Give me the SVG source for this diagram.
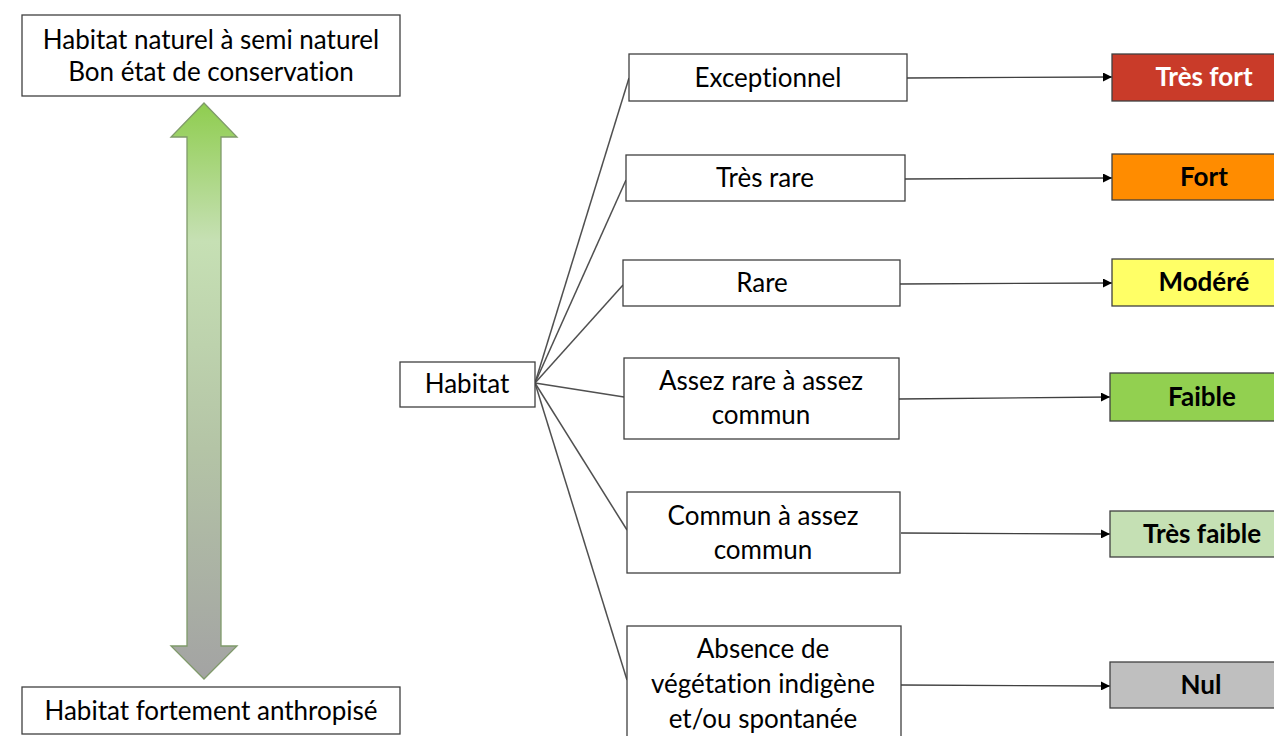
<svg xmlns="http://www.w3.org/2000/svg" width="1274" height="736" viewBox="0 0 1274 736">
<style>
  text { font-variant-ligatures: none; font-feature-settings: "liga" 0, "dlig" 0; }
  .box { fill: #ffffff; stroke: #404040; stroke-width: 1.3; }
  .t { font-family: Lato, "Liberation Sans", sans-serif; font-size: 26px; fill: #000; text-anchor: middle; }
  .b { font-family: Lato, "Liberation Sans", sans-serif; font-size: 26px; font-weight: bold; fill: #000; text-anchor: middle; }
  .lvl { stroke: #404040; stroke-width: 1.3; }
  .con { stroke: #505050; stroke-width: 1.5; fill: none; }
  .arr { stroke: #404040; stroke-width: 1.3; fill: none; marker-end: url(#ah); }
</style>
<defs>
  <marker id="ah" viewBox="0 0 10 10" refX="10" refY="5" markerWidth="10" markerHeight="9" markerUnits="userSpaceOnUse" orient="auto">
    <path d="M0,0 L10,5 L0,10 z" fill="#000"/>
  </marker>
  <linearGradient id="grad" x1="0" y1="103" x2="0" y2="679" gradientUnits="userSpaceOnUse">
    <stop offset="0" stop-color="#8fcd4f"/>
    <stop offset="0.24" stop-color="#c6e0b4"/>
    <stop offset="0.6" stop-color="#b4c4a6"/>
    <stop offset="1" stop-color="#a3a3a3"/>
  </linearGradient>
</defs>
<rect width="1274" height="736" fill="#ffffff"/>

<g id="top-left">
  <rect class="box" x="22" y="15" width="378" height="81"/>
  <text class="t" x="211" y="49">Habitat naturel à semi naturel</text>
  <text class="t" x="211" y="81">Bon état de conservation</text>
</g>
<g id="bottom-left">
  <rect class="box" x="22" y="687" width="378" height="47"/>
  <text class="t" x="211" y="720">Habitat fortement anthropisé</text>
</g>
<g id="double-arrow">
  <path d="M204,103 L237,137 L221,137 L221,646 L237,646 L204,679 L171,646 L187,646 L187,137 L171,137 Z" fill="url(#grad)" stroke="#7f9a6a" stroke-width="1.3"/>
</g>

<g id="connectors">
  <line class="con" x1="535" y1="383" x2="629" y2="78"/>
  <line class="con" x1="535" y1="383" x2="626" y2="180"/>
  <line class="con" x1="535" y1="383" x2="623" y2="285"/>
  <line class="con" x1="535" y1="383" x2="624" y2="397"/>
  <line class="con" x1="535" y1="383" x2="627" y2="530"/>
  <line class="con" x1="535" y1="383" x2="627" y2="680"/>
  <line class="arr" x1="907" y1="78" x2="1112" y2="77"/>
  <line class="arr" x1="905" y1="179" x2="1112" y2="178"/>
  <line class="arr" x1="900" y1="284" x2="1112" y2="283"/>
  <line class="arr" x1="899" y1="399" x2="1110" y2="397"/>
  <line class="arr" x1="901" y1="533" x2="1110" y2="534"/>
  <line class="arr" x1="901" y1="685" x2="1110" y2="686"/>
</g>

<g id="habitat">
  <rect class="box" x="400" y="362" width="135" height="45"/>
  <text class="t" x="467" y="393">Habitat</text>
</g>

<g id="exceptionnel">
  <rect class="box" x="629" y="54" width="278" height="47"/>
  <text class="t" x="768" y="87">Exceptionnel</text>
</g>
<g id="tres-rare">
  <rect class="box" x="626" y="155" width="279" height="46"/>
  <text class="t" x="765" y="187">Très rare</text>
</g>
<g id="rare">
  <rect class="box" x="623" y="260" width="277" height="46"/>
  <text class="t" x="762" y="292">Rare</text>
</g>
<g id="assez-rare">
  <rect class="box" x="624" y="358" width="275" height="81"/>
  <text class="t" x="761" y="390">Assez rare à assez</text>
  <text class="t" x="761" y="424">commun</text>
</g>
<g id="commun">
  <rect class="box" x="627" y="492" width="273" height="81"/>
  <text class="t" x="763" y="525">Commun à assez</text>
  <text class="t" x="763" y="559">commun</text>
</g>
<g id="absence">
  <rect class="box" x="627" y="626" width="274" height="120"/>
  <text class="t" x="763" y="658">Absence de</text>
  <text class="t" x="763" y="693">végétation indigène</text>
  <text class="t" x="763" y="728">et/ou spontanée</text>
</g>

<g id="tres-fort">
  <rect class="lvl" x="1112" y="54" width="170" height="47" fill="#c93b29"/>
  <text class="b" x="1204" y="86" style="fill:#ffffff">Très fort</text>
</g>
<g id="fort">
  <rect class="lvl" x="1112" y="154" width="170" height="46" fill="#ff8c00"/>
  <text class="b" x="1204" y="186">Fort</text>
</g>
<g id="modere">
  <rect class="lvl" x="1112" y="259" width="170" height="47" fill="#ffff66"/>
  <text class="b" x="1204" y="291">Modéré</text>
</g>
<g id="faible">
  <rect class="lvl" x="1110" y="373" width="172" height="48" fill="#92d050"/>
  <text class="b" x="1202" y="406">Faible</text>
</g>
<g id="tres-faible">
  <rect class="lvl" x="1110" y="511" width="172" height="46" fill="#c5e0b4"/>
  <text class="b" x="1202" y="543">Très faible</text>
</g>
<g id="nul">
  <rect class="lvl" x="1110" y="662" width="172" height="46" fill="#bfbfbf"/>
  <text class="b" x="1201" y="694">Nul</text>
</g>
</svg>
